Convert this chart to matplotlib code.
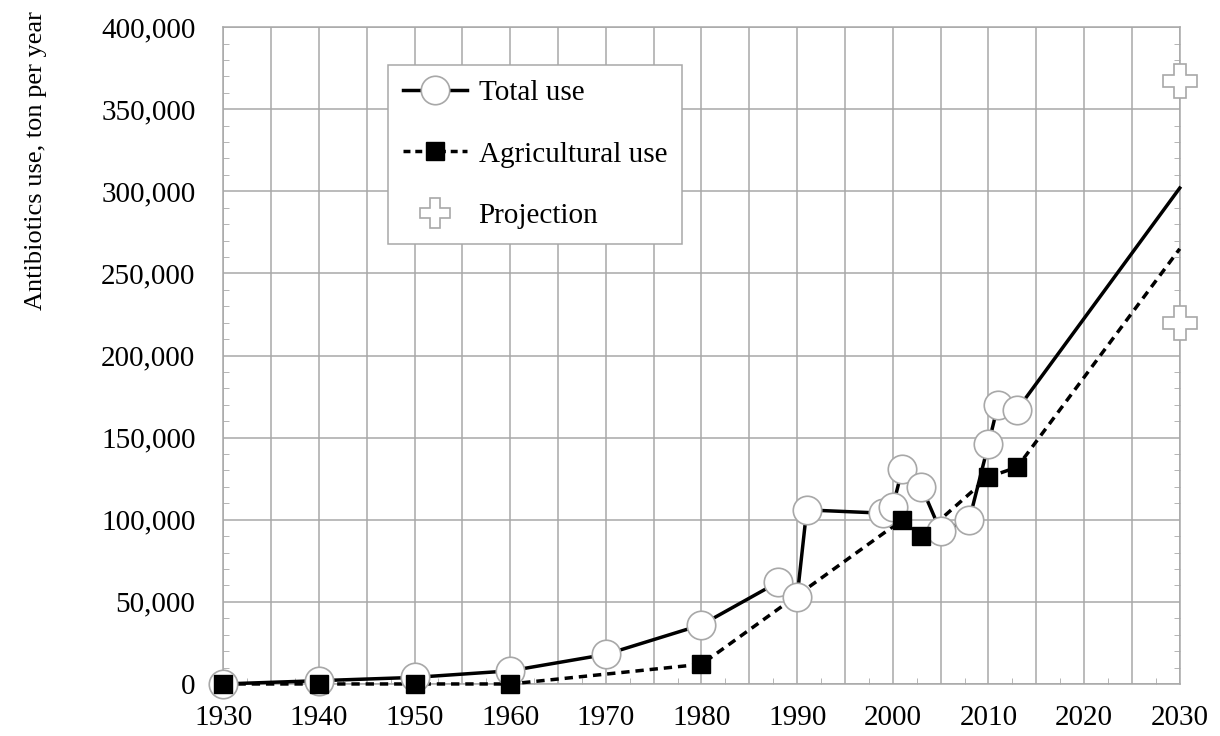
import matplotlib
matplotlib.use("Agg")
import matplotlib.pyplot as plt
from matplotlib.lines import Line2D
from matplotlib.ticker import MultipleLocator, FuncFormatter

plt.rcParams['font.family'] = ['Liberation Serif', 'DejaVu Serif']

# total antibiotics use (circles) and the projected end of the trend line
total_years = [1930, 1940, 1950, 1960, 1970, 1980, 1988, 1990, 1991, 1999,
               2000, 2001, 2003, 2005, 2008, 2010, 2011, 2013]
total_use = [0, 2000, 4000, 8000, 18000, 36000, 62000, 53000, 106000, 104000,
             108000, 131000, 120000, 93000, 100000, 146000, 170000, 167000]
total_2030 = 302000

# agricultural use (squares)
ag_years = [1930, 1940, 1950, 1960, 1980, 2001, 2003, 2010, 2013]
ag_use = [0, 0, 0, 0, 12000, 100000, 90000, 126000, 132000]
ag_2030 = 265000

# separate projection markers
proj_years = [2030, 2030]
proj_use = [367000, 220000]

GRAY = '#a8a8a8'
FS = 21
LW = 2.5

fig = plt.figure(figsize=(12.2, 7.36), dpi=100)
ax = fig.add_axes([0.183, 0.0707, 0.784, 0.8925])

# dashed agricultural trend, below the circles
ax.plot(ag_years + [2030], ag_use + [ag_2030], color='black', lw=LW,
        dashes=(2.4, 1.7), zorder=3, clip_on=False)
# solid total trend
ax.plot(total_years + [2030], total_use + [total_2030], color='black', lw=LW,
        zorder=4, clip_on=False)
ax.plot(total_years, total_use, ls='none', marker='o', ms=20.5, mfc='white',
        mec=GRAY, mew=1.2, zorder=5, clip_on=False)
ax.plot(ag_years, ag_use, ls='none', marker='s', ms=12.5, mfc='black',
        mec='black', zorder=6, clip_on=False)
ax.plot(proj_years, proj_use, ls='none', marker='P', ms=24, mfc='white',
        mec=GRAY, mew=1.2, zorder=6, clip_on=False)

ax.set_xlim(1930, 2030)
ax.set_ylim(0, 400000)

ax.xaxis.set_major_locator(MultipleLocator(5))
ax.xaxis.set_minor_locator(MultipleLocator(2.5))
ax.xaxis.set_major_formatter(FuncFormatter(lambda v, p: f'{int(round(v))}' if round(v) % 10 == 0 else ''))
ax.yaxis.set_major_locator(MultipleLocator(50000))
ax.yaxis.set_minor_locator(MultipleLocator(10000))
ax.yaxis.set_major_formatter(FuncFormatter(lambda v, p: f'{int(v):,}'))

ax.grid(True, which='major', color=GRAY, lw=1.1, zorder=1)
ax.set_axisbelow(True)
ax.tick_params(which='both', direction='in', color=GRAY, labelsize=FS,
               right=True, top=False)
ax.tick_params(which='major', length=0)
ax.tick_params(axis='y', which='major', pad=20)
ax.tick_params(axis='x', which='major', pad=15)
ax.tick_params(which='minor', length=4)
for s in ax.spines.values():
    s.set_color(GRAY)
    s.set_linewidth(1.1)

ax.set_ylabel('Antibiotics use, ton per year', fontsize=19)
ax.yaxis.set_label_coords(-0.184, 0.797)

handles = [
    Line2D([], [], color='black', lw=LW, marker='o', ms=20.5, mfc='white', mec=GRAY, mew=1.2),
    Line2D([], [], color='black', lw=LW, dashes=(2.0, 1.4), marker='s', ms=12.5, mfc='black', mec='black'),
    Line2D([], [], ls='none', marker='P', ms=22, mfc='white', mec=GRAY, mew=1.2),
]
leg = ax.legend(handles, ['Total use', 'Agricultural use', 'Projection'],
                loc='upper left', bbox_to_anchor=(0.1724, 0.942), fontsize=FS,
                handlelength=2.2, handletextpad=0.4, labelspacing=1.2,
                borderpad=0.5, borderaxespad=0, fancybox=False, framealpha=1,
                edgecolor=GRAY, numpoints=1)
leg.get_frame().set_linewidth(1.1)
leg.set_zorder(10)

fig.savefig('out.png', dpi=100)
